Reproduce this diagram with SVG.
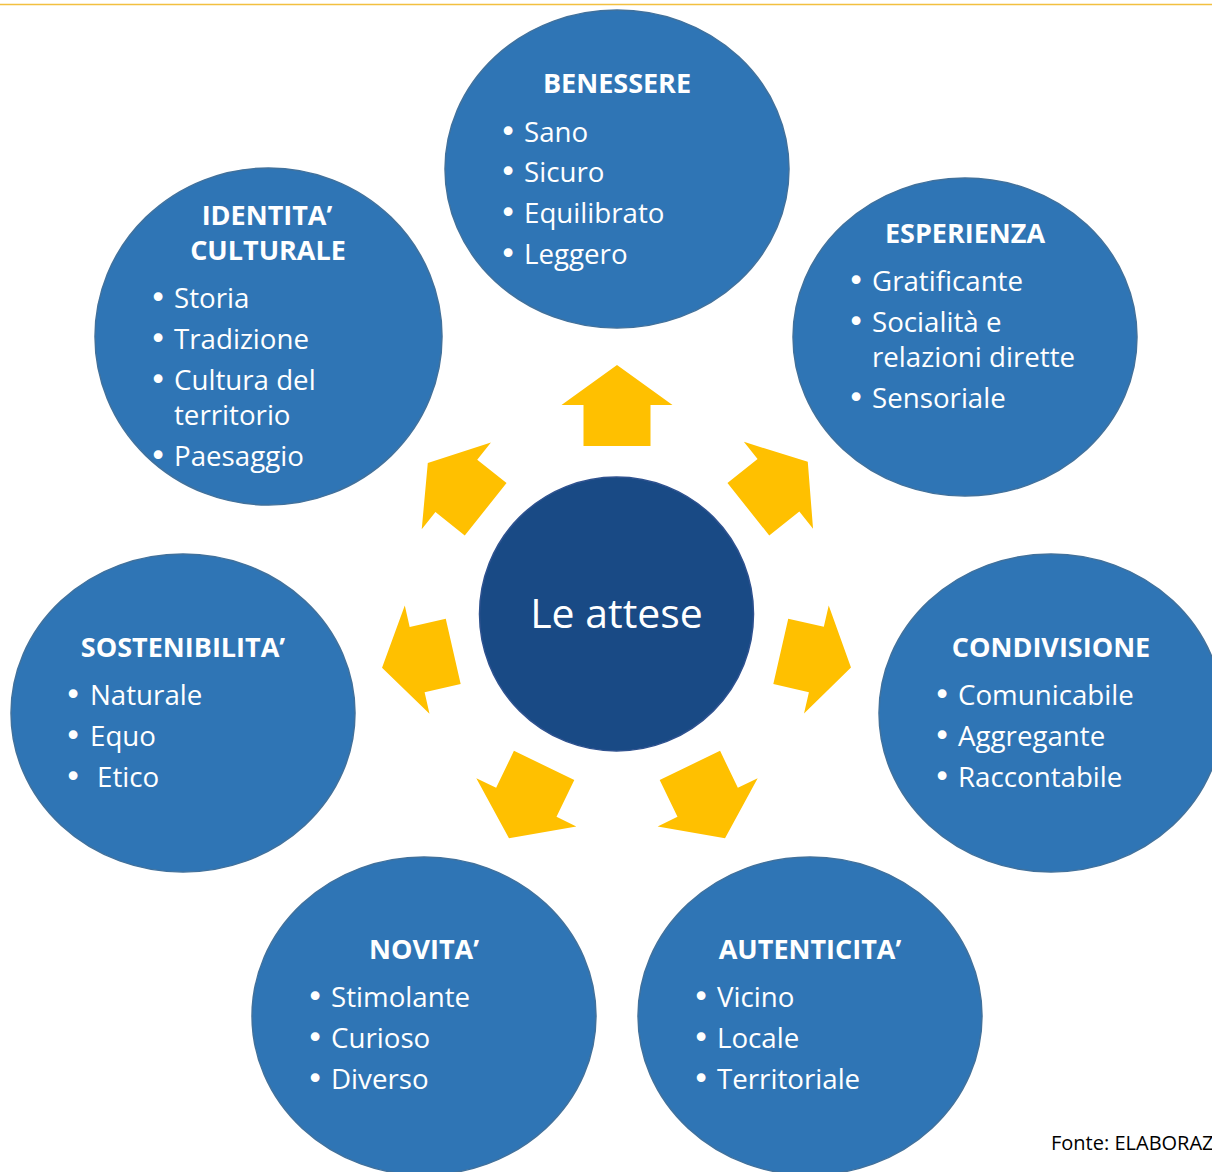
<svg xmlns="http://www.w3.org/2000/svg" width="1212" height="1172" viewBox="0 0 1212 1172">
<style>
.node{fill:#2F75B5;stroke:#41719C;stroke-width:1.5}
.core{fill:#194A85;stroke:#2F528F;stroke-width:1.5}
.arr{fill:#FFC000}
text{font-family:"Open Sans","Liberation Sans",sans-serif;fill:#FFFFFF}
.t{font-size:27px;font-weight:bold;text-anchor:middle}
.i{font-size:27.7px}
.b{font-family:"DejaVu Sans",sans-serif;font-size:30px;text-anchor:middle}
.c{font-size:41px;text-anchor:middle}
.src{font-size:20px;fill:#000000}
</style>
<rect width="1212" height="1172" fill="#FFFFFF"/>
<line x1="0" y1="4.5" x2="1212" y2="4.5" stroke="#F2C040" stroke-width="1.5"/>
<g id="connectors">
<polygon class="arr" transform="translate(617,614) rotate(0)" points="0,-249 55.5,-209 33.5,-209 33.5,-168 -33.5,-168 -33.5,-209 -55.5,-209"/>
<polygon class="arr" transform="translate(617,614) rotate(51.43)" points="0,-244 55.5,-206.5 33.5,-206.5 33.5,-168 -33.5,-168 -33.5,-206.5 -55.5,-206.5"/>
<polygon class="arr" transform="translate(617,614) rotate(102.86)" points="0,-240 55.5,-204.5 33.5,-204.5 33.5,-168 -33.5,-168 -33.5,-204.5 -55.5,-204.5"/>
<polygon class="arr" transform="translate(617,614) rotate(154.29)" points="0,-249 55.5,-209 33.5,-209 33.5,-168 -33.5,-168 -33.5,-209 -55.5,-209"/>
<polygon class="arr" transform="translate(617,614) rotate(205.71)" points="0,-249 55.5,-209 33.5,-209 33.5,-168 -33.5,-168 -33.5,-209 -55.5,-209"/>
<polygon class="arr" transform="translate(617,614) rotate(257.14)" points="0,-241 55.5,-205 33.5,-205 33.5,-168 -33.5,-168 -33.5,-205 -55.5,-205"/>
<polygon class="arr" transform="translate(617,614) rotate(308.57)" points="0,-242 55.5,-205.5 33.5,-205.5 33.5,-168 -33.5,-168 -33.5,-205.5 -55.5,-205.5"/>
</g>
<g id="center">
<circle class="core" cx="616.5" cy="614" r="137"/>
<text class="c" x="616.5" y="628">Le attese</text>
</g>
<g id="benessere">
<ellipse class="node" cx="617" cy="169" rx="172" ry="159"/>
<text class="t" x="617" y="93">BENESSERE</text>
<text class="b" x="508" y="142">•</text><text class="i" x="524" y="142">Sano</text>
<text class="b" x="508" y="182">•</text><text class="i" x="524" y="182">Sicuro</text>
<text class="b" x="508" y="223">•</text><text class="i" x="524" y="223">Equilibrato</text>
<text class="b" x="508" y="264">•</text><text class="i" x="524" y="264">Leggero</text>
</g>
<g id="esperienza">
<ellipse class="node" cx="965" cy="337" rx="172" ry="159"/>
<text class="t" x="965" y="243">ESPERIENZA</text>
<text class="b" x="856" y="291">•</text><text class="i" x="872" y="291">Gratificante</text>
<text class="b" x="856" y="332">•</text><text class="i" x="872" y="332">Socialità e</text>
<text class="i" x="872" y="367">relazioni dirette</text>
<text class="b" x="856" y="408">•</text><text class="i" x="872" y="408">Sensoriale</text>
</g>
<g id="condivisione">
<ellipse class="node" cx="1051" cy="713" rx="172" ry="159"/>
<text class="t" x="1051" y="657">CONDIVISIONE</text>
<text class="b" x="942" y="705">•</text><text class="i" x="958" y="705">Comunicabile</text>
<text class="b" x="942" y="746">•</text><text class="i" x="958" y="746">Aggregante</text>
<text class="b" x="942" y="787">•</text><text class="i" x="958" y="787">Raccontabile</text>
</g>
<g id="autenticita">
<ellipse class="node" cx="810" cy="1016" rx="172" ry="159"/>
<text class="t" x="810" y="959">AUTENTICITA’</text>
<text class="b" x="701" y="1007">•</text><text class="i" x="717" y="1007">Vicino</text>
<text class="b" x="701" y="1048">•</text><text class="i" x="717" y="1048">Locale</text>
<text class="b" x="701" y="1089">•</text><text class="i" x="717" y="1089">Territoriale</text>
</g>
<g id="novita">
<ellipse class="node" cx="424" cy="1016" rx="172" ry="159"/>
<text class="t" x="424" y="959">NOVITA’</text>
<text class="b" x="315" y="1007">•</text><text class="i" x="331" y="1007">Stimolante</text>
<text class="b" x="315" y="1048">•</text><text class="i" x="331" y="1048">Curioso</text>
<text class="b" x="315" y="1089">•</text><text class="i" x="331" y="1089">Diverso</text>
</g>
<g id="sostenibilita">
<ellipse class="node" cx="183" cy="713" rx="172" ry="159"/>
<text class="t" x="183" y="657">SOSTENIBILITA’</text>
<text class="b" x="73" y="705">•</text><text class="i" x="90" y="705">Naturale</text>
<text class="b" x="73" y="746">•</text><text class="i" x="90" y="746">Equo</text>
<text class="b" x="73" y="787">•</text><text class="i" x="97" y="787">Etico</text>
</g>
<g id="identita">
<ellipse class="node" cx="268.5" cy="336.5" rx="173.5" ry="168.5"/>
<text class="t" x="267" y="225">IDENTITA’</text>
<text class="t" x="268" y="260">CULTURALE</text>
<text class="b" x="158" y="308">•</text><text class="i" x="174" y="308">Storia</text>
<text class="b" x="158" y="349">•</text><text class="i" x="174" y="349">Tradizione</text>
<text class="b" x="158" y="390">•</text><text class="i" x="174" y="390">Cultura del</text>
<text class="i" x="174" y="425">territorio</text>
<text class="b" x="158" y="466">•</text><text class="i" x="174" y="466">Paesaggio</text>
</g>
<text class="src" x="1051" y="1150">Fonte: ELABORAZ</text>
</svg>
